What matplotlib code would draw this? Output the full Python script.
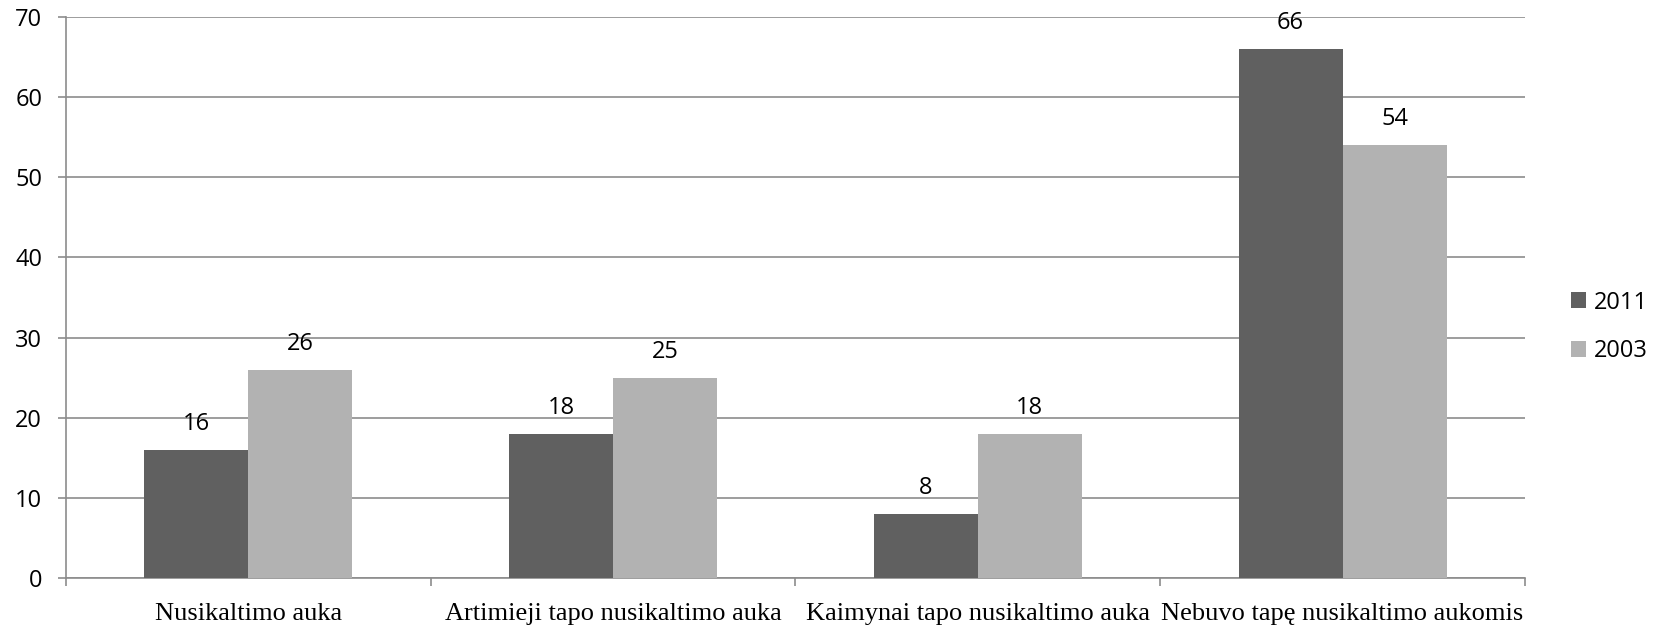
import numpy as np
import matplotlib.pyplot as plt

categories = ["Nusikaltimo auka", "Artimieji tapo nusikaltimo auka",
              "Kaimynai tapo nusikaltimo auka", "Nebuvo tapę nusikaltimo aukomis"]
values_2011 = [16, 18, 8, 66]
values_2003 = [26, 25, 18, 54]
series_names = ["2011", "2003"]

dark = "#606060"
light = "#b2b2b2"
grid_col = "#8c8c8c"

fig = plt.figure(figsize=(16.63, 6.26), dpi=100)
ax = fig.add_axes([0.0396, 0.0767, 0.8774, 0.896])

x = np.arange(len(categories))
w = 0.285
b1 = ax.bar(x - w / 2, values_2011, w, color=dark, label=series_names[0], zorder=3)
b2 = ax.bar(x + w / 2, values_2003, w, color=light, label=series_names[1], zorder=3)

for bars in (b1, b2):
    for bar in bars:
        h = bar.get_height()
        ax.annotate(f"{h:g}", (bar.get_x() + bar.get_width() / 2, h),
                    xytext=(0, 10), textcoords="offset points",
                    ha="center", va="bottom", fontsize=17, family="Open Sans")

ax.set_xlim(-0.5, len(categories) - 0.5)
ax.set_ylim(0, 70)
ax.set_yticks(range(0, 71, 10))
ax.yaxis.grid(True, color=grid_col, linewidth=1.2, zorder=0)

ax.set_xticks(x)
ax.set_xticklabels(categories, family="Liberation Serif", fontsize=19)
ax.set_xticks(np.arange(-0.5, len(categories), 1), minor=True)
ax.tick_params(axis="x", which="major", length=0, pad=18)
ax.tick_params(axis="x", which="minor", length=6, color=grid_col, width=1.2)
ax.tick_params(axis="y", length=6, color=grid_col, width=1.2, pad=11)
for lab in ax.get_yticklabels():
    lab.set_family("Open Sans")
    lab.set_fontsize(17)

for side in ("top", "right"):
    ax.spines[side].set_visible(False)
for side in ("left", "bottom"):
    ax.spines[side].set_color(grid_col)
    ax.spines[side].set_linewidth(1.2)

leg = ax.legend(loc="center left", bbox_to_anchor=(1571 / 1663, 1 - 327 / 626),
                bbox_transform=fig.transFigure, frameon=False,
                prop={"family": "Open Sans", "size": 17}, handlelength=0.65,
                handleheight=0.65, handletextpad=0.3, labelspacing=1.05,
                borderaxespad=0, borderpad=0)

fig.savefig("out.png", dpi=100)
